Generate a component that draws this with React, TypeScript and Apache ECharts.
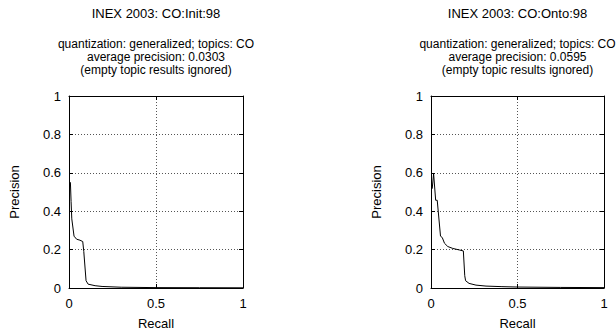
import React, { useEffect, useRef } from "react";
import * as echarts from "echarts";

const titles = ["INEX 2003: CO:Init:98", "INEX 2003: CO:Onto:98"];
const subtitleLine1 = "quantization: generalized; topics: CO";
const avgPrecision = ["0.0303", "0.0595"];
const subtitleLine3 = "(empty topic results ignored)";

const initRecall = [0.008, 0.012, 0.016, 0.029, 0.044, 0.063, 0.079, 0.085, 0.098, 0.11, 0.15, 0.19, 0.3, 0.5, 0.75, 1.0];
const initPrecision = [0.551, 0.45, 0.36, 0.27, 0.254, 0.249, 0.242, 0.19, 0.038, 0.02, 0.012, 0.008, 0.004, 0.002, 0.0015, 0.001];

const ontoRecall = [0.007, 0.015, 0.027, 0.036, 0.055, 0.065, 0.078, 0.097, 0.126, 0.164, 0.187, 0.195, 0.2, 0.22, 0.26, 0.318, 0.41, 0.5, 0.75, 1.0];
const ontoPrecision = [0.517, 0.596, 0.457, 0.457, 0.27, 0.263, 0.233, 0.216, 0.206, 0.198, 0.193, 0.064, 0.038, 0.024, 0.015, 0.01, 0.007, 0.005, 0.003, 0.002];

const FONT = "'Liberation Sans', Arial, Helvetica, sans-serif";

export default function App() {
  const ref = useRef<HTMLDivElement>(null);
  useEffect(() => {
    if (!ref.current) return;
    const chart = echarts.init(ref.current, undefined, { renderer: "svg" });
    const grids = [
      { left: 69, top: 96, width: 174, height: 193 },
      { left: 431, top: 96, width: 173, height: 193 },
    ];
    const centers = grids.map((g) => g.left + g.width / 2);
    const split = { show: true, lineStyle: { color: "#555", width: 1, type: [1, 2] as any } };
    const axisLine = { show: true, onZero: false, lineStyle: { color: "#000", width: 1 } };
    const tick = { show: true, inside: true, length: 4, lineStyle: { color: "#000" } };
    const label = { color: "#000", fontSize: 13, fontFamily: FONT };
    const nameStyle = { color: "#000", fontSize: 13, fontFamily: FONT };

    const xAxes: any[] = [];
    const yAxes: any[] = [];
    grids.forEach((_, i) => {
      xAxes.push({
        type: "value", gridIndex: i, min: 0, max: 1, interval: 0.5, position: "bottom",
        axisLine, axisTick: tick, splitLine: split,
        axisLabel: { ...label, margin: 9 },
        name: "Recall", nameLocation: "middle", nameGap: 29,
        nameTextStyle: nameStyle,
      });
      xAxes.push({
        type: "value", gridIndex: i, min: 0, max: 1, interval: 0.5, position: "top",
        axisLine, axisTick: tick, splitLine: { show: false }, axisLabel: { show: false },
      });
      yAxes.push({
        type: "value", gridIndex: i, min: 0, max: 1, interval: 0.2, position: "left",
        axisLine, axisTick: tick, splitLine: split,
        axisLabel: { ...label, margin: 8 },
        name: "Precision", nameLocation: "middle", nameRotate: 90, nameGap: 48,
        nameTextStyle: nameStyle,
      });
      yAxes.push({
        type: "value", gridIndex: i, min: 0, max: 1, interval: 0.2, position: "right",
        axisLine, axisTick: tick, splitLine: { show: false }, axisLabel: { show: false },
      });
    });

    const textEl = (x: number, y: number, text: string, size: number) => ({
      type: "text", x, y,
      style: {
        text, fill: "#000", font: `${size}px ${FONT}`, lineHeight: size,
        textAlign: "center", textVerticalAlign: "middle",
      },
    });
    const graphic: any[] = [];
    centers.forEach((cx, i) => {
      graphic.push(textEl(cx, 13, titles[i], 13));
      graphic.push(textEl(cx, 44, subtitleLine1, 12));
      graphic.push(textEl(cx, 57, "average precision: " + avgPrecision[i], 12));
      graphic.push(textEl(cx, 70, subtitleLine3, 12));
    });

    chart.setOption({
      animation: false,
      backgroundColor: "#fff",
      grid: grids,
      xAxis: xAxes,
      yAxis: yAxes,
      graphic,
      series: [
        {
          type: "line", xAxisIndex: 0, yAxisIndex: 0, showSymbol: false, symbol: "none",
          lineStyle: { color: "#000", width: 1 },
          data: initRecall.map((r, k) => [r, initPrecision[k]]),
        },
        {
          type: "line", xAxisIndex: 2, yAxisIndex: 2, showSymbol: false, symbol: "none",
          lineStyle: { color: "#000", width: 1 },
          data: ontoRecall.map((r, k) => [r, ontoPrecision[k]]),
        },
      ],
    });
    return () => chart.dispose();
  }, []);
  return (
    <div
      ref={ref}
      style={{ position: "absolute", left: 0, top: 0, width: 616, height: 335 }}
    />
  );
}
